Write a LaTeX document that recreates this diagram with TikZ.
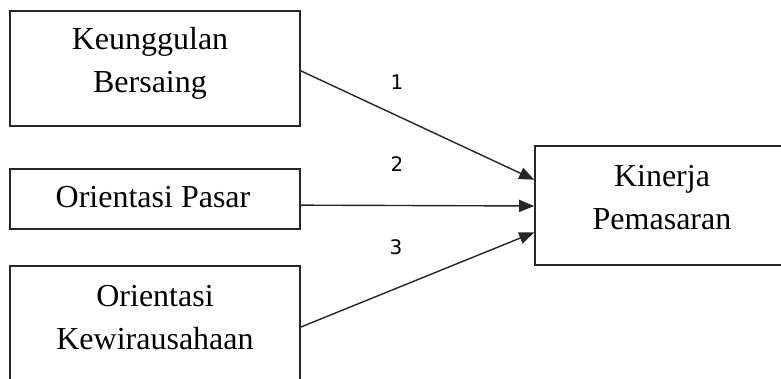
\documentclass[tikz,border=0pt]{standalone}
\usepackage{fontspec}
\setmainfont{Liberation Serif}
\newfontfamily\labelfont{DejaVu Sans}
\usetikzlibrary{arrows.meta,calc}
\tikzset{
  varbox/.style={draw=black!85, line width=1.6pt, inner sep=0pt},
  boxtext/.style={align=center, inner sep=0pt, font=\fontsize{32}{43}\selectfont},
  link/.style={draw=black!85, line width=1.4pt, -{Triangle[length=15pt,width=12pt]}},
  pathnum/.style={font=\labelfont\fontsize{20}{22}\selectfont, inner sep=0pt}
}
\begin{document}
\begin{tikzpicture}[x=1pt,y=1pt]
\useasboundingbox (0,0) rectangle (781,379);
\clip (0,0) rectangle (781,379);
\fill[white] (0,0) rectangle (781,379);

% independent variables
\node[varbox, minimum width=290pt, minimum height=115pt] (b1) at (155,310.5) {};
\node[varbox, minimum width=290pt, minimum height=60pt] (b2) at (155,180) {};
\node[varbox, minimum width=290pt, minimum height=119pt] (b3) at (155,53.5) {};

% dependent variable
\node[varbox, minimum width=255pt, minimum height=119pt] (b4) at (662.5,173.5) {};

% box labels, placed by the baseline of their last line
\node[boxtext, anchor=base] (t1) at (150,286) {Keunggulan\\Bersaing};
\node[boxtext, anchor=base] (t2) at (153,171) {Orientasi Pasar};
\node[boxtext, anchor=base] (t3) at (155,29) {Orientasi\\Kewirausahaan};
\node[boxtext, anchor=base] (t4) at (662,149) {Kinerja\\Pemasaran};

% paths
\draw[link] ($(b1.north east)!0.52!(b1.south east)$) -- ($(b4.north west)!0.286!(b4.south west)$);
\draw[link] ($(b2.north east)!0.6!(b2.south east)$) -- ($(b4.north west)!0.504!(b4.south west)$);
\draw[link] ($(b3.north east)!0.513!(b3.south east)$) -- ($(b4.north west)!0.723!(b4.south west)$);

% path numbers
\node[pathnum] (n1) at (397,297) {1};
\node[pathnum] (n2) at (397,215) {2};
\node[pathnum] (n3) at (396,132) {3};
\end{tikzpicture}
\end{document}
